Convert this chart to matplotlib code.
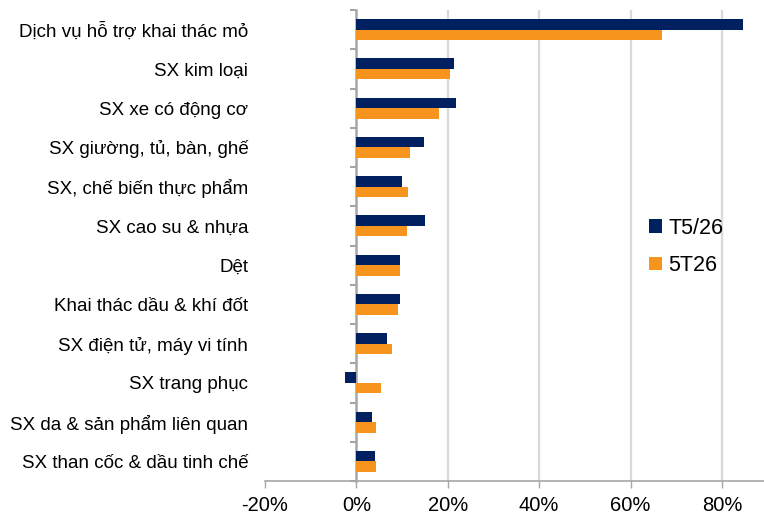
import matplotlib
matplotlib.use("Agg")
import matplotlib.pyplot as plt
import numpy as np
from matplotlib.patches import Patch
from matplotlib.ticker import FuncFormatter

plt.rcParams["font.family"] = ["Liberation Sans", "DejaVu Sans"]

# ── data ─────────────────────────────────────────────────────────────────────
categories = [
    "Dịch vụ hỗ trợ khai thác mỏ",
    "SX kim loại",
    "SX xe có động cơ",
    "SX giường, tủ, bàn, ghế",
    "SX, chế biến thực phẩm",
    "SX cao su & nhựa",
    "Dệt",
    "Khai thác dầu & khí đốt",
    "SX điện tử, máy vi tính",
    "SX trang phục",
    "SX da & sản phẩm liên quan",
    "SX than cốc & dầu tinh chế",
]
t5_26 = [84.7, 21.3, 21.8, 14.9, 9.9, 15.0, 9.6, 9.5, 6.6, -2.6, 3.4, 4.0]
ytd_5t26 = [66.8, 20.4, 18.1, 11.8, 11.4, 11.1, 9.5, 9.1, 7.7, 5.3, 4.4, 4.2]
series_names = ["T5/26", "5T26"]
xticks = [-20, 0, 20, 40, 60, 80]

# ── style ────────────────────────────────────────────────────────────────────
C_NAVY = "#002060"
C_ORANGE = "#F7941E"
C_AXIS = "#a6a6a6"
C_GRID = "#d9d9d9"
XMIN, XMAX = -20, 89.2
BAR_H = 0.27

fig = plt.figure(figsize=(7.64, 5.17), dpi=100)
ax = fig.add_axes([265 / 764, 36 / 517, 499 / 764, 471 / 517])

y = np.arange(len(categories))
ax.barh(y - BAR_H / 2, t5_26, height=BAR_H, color=C_NAVY, zorder=3)
ax.barh(y + BAR_H / 2, ytd_5t26, height=BAR_H, color=C_ORANGE, zorder=3)

ax.set_xlim(XMIN, XMAX)
ax.set_ylim(len(categories) - 0.5, -0.5)

# vertical gridlines (none at the left edge / zero)
for t in xticks:
    if t > 0:
        ax.axvline(t, color=C_GRID, lw=1.6, zorder=1)

# x axis
ax.set_xticks(xticks)
ax.xaxis.set_major_formatter(FuncFormatter(lambda v, _: f"{v:.0f}%"))
ax.tick_params(axis="x", direction="out", length=5, width=1, color=C_AXIS,
               labelsize=14.5, pad=6)
for s in ("top", "right", "left"):
    ax.spines[s].set_visible(False)
ax.spines["bottom"].set_color(C_AXIS)
ax.spines["bottom"].set_linewidth(1.2)

# category labels at the left edge
ax.set_yticks(y)
ax.set_yticklabels(categories)
ax.tick_params(axis="y", length=0, labelsize=13.5, pad=12)

# vertical category axis crossing at 0% with boundary ticks
zero_pos = (0 - XMIN) / (XMAX - XMIN)
sec = ax.secondary_yaxis(zero_pos)
sec.set_yticks(np.arange(len(categories) + 1) - 0.5)
sec.set_yticklabels([])
sec.tick_params(axis="y", direction="out", length=4, width=1.5, color=C_AXIS)
sec.spines["left"].set_color(C_AXIS)
sec.spines["left"].set_linewidth(1.8)

# legend
handles = [Patch(facecolor=C_NAVY, label=series_names[0]),
           Patch(facecolor=C_ORANGE, label=series_names[1])]
ax.legend(handles=handles, loc="center left", bbox_to_anchor=(0.77, 0.497),
          frameon=False, fontsize=15.5, handlelength=0.6, handleheight=0.6,
          handletextpad=0.3, labelspacing=0.75, borderpad=0, borderaxespad=0)

fig.savefig("out.png", dpi=100)
